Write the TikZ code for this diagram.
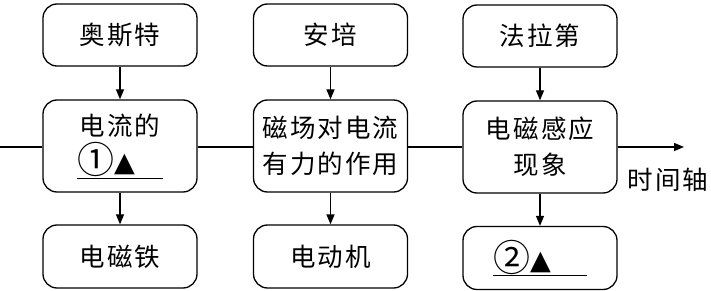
\documentclass[tikz,border=0pt]{standalone}
\usepackage{fontspec}
\usepackage{graphicx}
\setmainfont{Noto Sans CJK SC}
\newfontfamily\cjk[LetterSpace=8]{Noto Sans CJK SC}
\newfontfamily\plaincjk{Noto Sans CJK SC}
\newfontfamily\symfont{DejaVu Sans}
\newcommand{\cnum}[1]{\raisebox{-2pt}{\scalebox{1.45}{\plaincjk\fontsize{25.5}{25.5}\selectfont #1}}}
\newcommand{\tri}{{\symfont\fontsize{27}{27}\selectfont ▲}}
\usetikzlibrary{arrows.meta}
\begin{document}
\begin{tikzpicture}[x=1pt,y=-1pt,
  box/.style={draw,line width=1.3pt,rounded corners=14pt,minimum width=154pt,inner sep=0pt,align=center,
    font=\cjk\fontsize{25.5}{36}\selectfont},
  conn/.style={line width=1.3pt,-{Triangle[length=10pt,width=8pt]}},
  axis/.style={line width=1.3pt}]
\useasboundingbox (0,0) rectangle (711,291);
% column 1
\node[box,minimum height=62pt] (ao) at (120,35) {奥斯特};
\node[box,minimum height=92pt] (dl) at (120,146) {电流的\\\underline{\cnum{①}\tri\hspace{28pt}}};
\node[box,minimum height=63pt] (dct) at (120,256.5) {电磁铁};
% column 2
\node[box,minimum height=62pt] (ap) at (330.5,35) {安培};
\node[box,minimum height=92pt] (cc) at (330.5,146) {磁场对电流\\有力的作用};
\node[box,minimum height=63pt] (ddj) at (330.5,256.5) {电动机};
% column 3
\node[box,minimum height=62pt] (fl) at (540,36) {法拉第};
\node[box,minimum height=92pt] (dc) at (540,147) {电磁感应\\现象};
\node[box,minimum height=63pt] (q2) at (540,258) {\underline{\cnum{②}\tri\hspace{36pt}}};
% vertical arrows
\draw[conn] (ao) -- (dl);
\draw[conn] (dl) -- (dct);
\draw[conn] (ap) -- (cc);
\draw[conn] (cc) -- (ddj);
\draw[conn] (fl) -- (dc);
\draw[conn] (dc) -- (q2);
% time axis
\coordinate (start) at (0,147);
\coordinate (end) at (684,147);
\draw[axis] (start) -- (dl.west |- start);
\draw[axis] (dl.east |- start) -- (cc.west |- start);
\draw[axis] (cc.east |- start) -- (dc.west |- start);
\draw[conn] (dc.east |- start) -- (end);
\node[font=\cjk\fontsize{25.5}{36}\selectfont,inner sep=0pt] (sj) at (668,180) {时间轴};
\end{tikzpicture}
\end{document}
